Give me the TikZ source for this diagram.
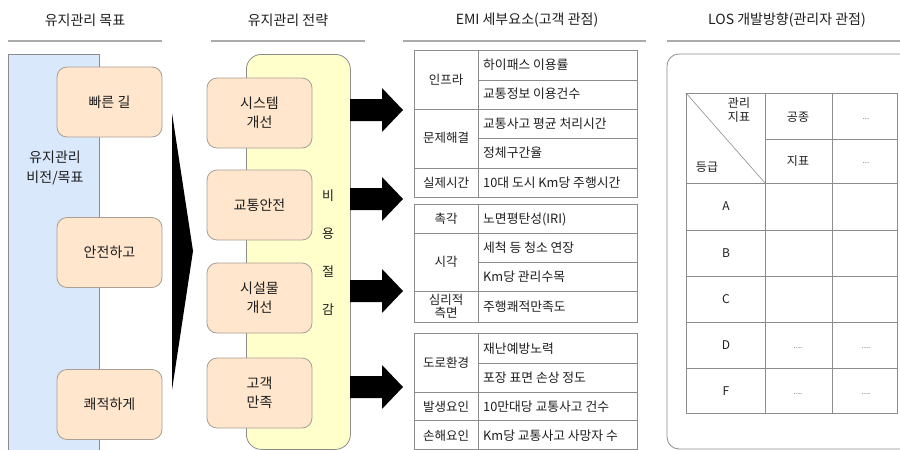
\documentclass[tikz,border=0pt]{standalone}
\usepackage{fontspec}
\usetikzlibrary{calc}
\setmainfont{Noto Sans CJK KR}
\definecolor{hdrgray}{HTML}{AAAAAA}
\definecolor{bluefill}{HTML}{DAE8FC}
\definecolor{orfill}{HTML}{FFE6CC}
\definecolor{orline}{HTML}{A89E94}
\definecolor{yelfill}{HTML}{FFFFCC}
\definecolor{tblline}{HTML}{8C8C8C}
\definecolor{txtc}{HTML}{1E1E1E}
\begin{document}
\begin{tikzpicture}[x=1pt,y=-1pt,
  every node/.style={inner sep=0pt, text=txtc},
  hdr/.style={font=\fontsize{14}{16}\selectfont},
  hdrline/.style={draw=hdrgray, line width=1.3pt},
  goalbox/.style={draw=orline, fill=orfill, rounded corners=10pt, minimum width=105pt, minimum height=70pt, line width=0.8pt, align=center, font=\fontsize{14}{19}\selectfont},
  tline/.style={draw=tblline, line width=0.8pt},
  ttxt/.style={font=\fontsize{12.5}{14}\selectfont, align=center},
  ltxt/.style={font=\fontsize{12.8}{14}\selectfont, anchor=west},
  lostxt/.style={font=\fontsize{12}{14}\selectfont, align=center},
  dots/.style={font=\fontsize{8}{9}\selectfont, text=gray},
  vtxt/.style={font=\fontsize{13}{14}\selectfont},
  bigarrow/.style={fill=black, draw=none}
]
\useasboundingbox (0,0) rectangle (900,450);
\clip (0,0) rectangle (900,450);

% headers
\node[hdr] (h1) at (85,20) {유지관리 목표};
\node[hdr] (h2) at (288,20) {유지관리 전략};
\node[hdr] (h3) at (527,20) {EMI 세부요소(고객 관점)};
\node[hdr] (h4) at (787,20) {LOS 개발방향(관리자 관점)};
\draw[hdrline] (8,41) -- (162,41);
\draw[hdrline] (211,41) -- (365,41);
\draw[hdrline] (403,41) -- (646,41);
\draw[hdrline] (667,41) -- (900,41);

% vision column
\node[draw=tblline, fill=bluefill, line width=0.8pt, minimum width=91pt, minimum height=400pt, anchor=north west] (vis) at (8,54) {};
\node[align=center, font=\fontsize{14}{20}\selectfont] (vislbl) at (55,168) {유지관리\\비전/목표};
\node[goalbox] (g1) at (109.5,102) {빠른 길};
\node[goalbox] (g2) at (109.5,252.5) {안전하고};
\node[goalbox] (g3) at (109.5,404.5) {쾌적하게};

% big triangle
\coordinate (t1) at (172,113);
\coordinate (t2) at (193,251);
\coordinate (t3) at (172,390);
\fill[black] (t1) -- (t2) -- (t3) -- cycle;

% strategy column
\node[draw=tblline, fill=yelfill, rounded corners=15pt, line width=0.8pt, minimum width=104pt, minimum height=395pt, anchor=north west] (cost) at (246,54) {};
\node[vtxt] (c1) at (328,196) {비};
\node[vtxt] (c2) at (328,234) {용};
\node[vtxt] (c3) at (328,272) {절};
\node[vtxt] (c4) at (328,310) {감};
\node[goalbox] (s1) at (259.5,113) {시스템\\개선};
\node[goalbox] (s2) at (259.5,205) {교통안전};
\node[goalbox] (s3) at (259.5,298) {시설물\\개선};
\node[goalbox] (s4) at (259.5,393) {고객\\만족};

% block arrows
\foreach \yc/\nm in {110/a1,199/a2,291/a3,387/a4}{
  \coordinate (\nm) at (350,\yc);
  \fill[bigarrow] ($(\nm)+(0,-11)$) -- ++(32,0) -- ++(0,-11) -- ++(21,22) -- ++(-21,22) -- ++(0,-11) -- ++(-32,0) -- cycle;
}

% EMI table 1
\draw[tline] (414,50) rectangle (637,197);
\draw[tline] (478,50) -- (478,197);
\draw[tline] (478,80) -- (637,80);
\draw[tline] (414,109) -- (637,109);
\draw[tline] (478,138) -- (637,138);
\draw[tline] (414,168) -- (637,168);
\node[ttxt] (e1) at (446,80) {인프라};
\node[ttxt] (e2) at (446,138) {문제해결};
\node[ttxt] (e3) at (446,183) {실제시간};
\node[ltxt] (f1) at (483,65) {하이패스 이용률};
\node[ltxt] (f2) at (483,94) {교통정보 이용건수};
\node[ltxt] (f3) at (483,124) {교통사고 평균 처리시간};
\node[ltxt] (f4) at (483,153) {정체구간율};
\node[ltxt] (f5) at (483,183) {10대 도시 Km당 주행시간};

% EMI table 2
\draw[tline] (414,204) rectangle (637,322);
\draw[tline] (478,204) -- (478,322);
\draw[tline] (414,233) -- (637,233);
\draw[tline] (478,262) -- (637,262);
\draw[tline] (414,291) -- (637,291);
\node[ttxt] (e4) at (446,219) {촉각};
\node[ttxt] (e5) at (446,262) {시각};
\node[ttxt, font=\fontsize{12.5}{13}\selectfont] (e6) at (446,306) {심리적\\측면};
\node[ltxt] (f6) at (483,219) {노면평탄성(IRI)};
\node[ltxt] (f7) at (483,248) {세척 등 청소 연장};
\node[ltxt] (f8) at (483,277) {Km당 관리수목};
\node[ltxt] (f9) at (483,307) {주행쾌적만족도};

% EMI table 3
\draw[tline] (414,333) rectangle (637,449);
\draw[tline] (478,333) -- (478,449);
\draw[tline] (478,363) -- (637,363);
\draw[tline] (414,392) -- (637,392);
\draw[tline] (414,420) -- (637,420);
\node[ttxt] (e7) at (446,363) {도로환경};
\node[ttxt] (e8) at (446,407) {발생요인};
\node[ttxt] (e9) at (446,436) {손해요인};
\node[ltxt] (f10) at (483,349) {재난예방노력};
\node[ltxt] (f11) at (483,378) {포장 표면 손상 정도};
\node[ltxt] (f12) at (483,407) {10만대당 교통사고 건수};
\node[ltxt] (f13) at (483,436) {Km당 교통사고 사망자 수};

% LOS box
\draw[draw=tblline, line width=0.8pt, rounded corners=12pt] (667,54) rectangle (930,449);
% LOS table
\draw[tline] (686,93) rectangle (897,413);
\draw[tline] (765,93) -- (765,413);
\draw[tline] (832,93) -- (832,413);
\draw[tline] (765,139) -- (897,139);
\foreach \yy in {183,230,276,322,368}{\draw[tline] (686,\yy) -- (897,\yy);}
\draw[draw=tblline, line width=0.6pt] (686,93) -- (765,183);
\node[lostxt, font=\fontsize{12}{13.5}\selectfont] (l0a) at (739,110) {관리\\지표};
\node[lostxt] (l0b) at (707,167) {등급};
\node[lostxt] (l1) at (798,117) {공종};
\node[lostxt] (l2) at (798,161) {지표};
\node[dots] (l3) at (866,119) {...};
\node[dots] (l4) at (866,163) {...};
\node[lostxt] (rA) at (726,206) {A};
\node[lostxt] (rB) at (726,253) {B};
\node[lostxt] (rC) at (726,299) {C};
\node[lostxt] (rD) at (726,345) {D};
\node[lostxt] (rF) at (726,391) {F};
\node[dots] (dD1) at (798,348) {....};
\node[dots] (dD2) at (866,348) {....};
\node[dots] (dF1) at (798,394) {....};
\node[dots] (dF2) at (866,394) {....};
\end{tikzpicture}
\end{document}
